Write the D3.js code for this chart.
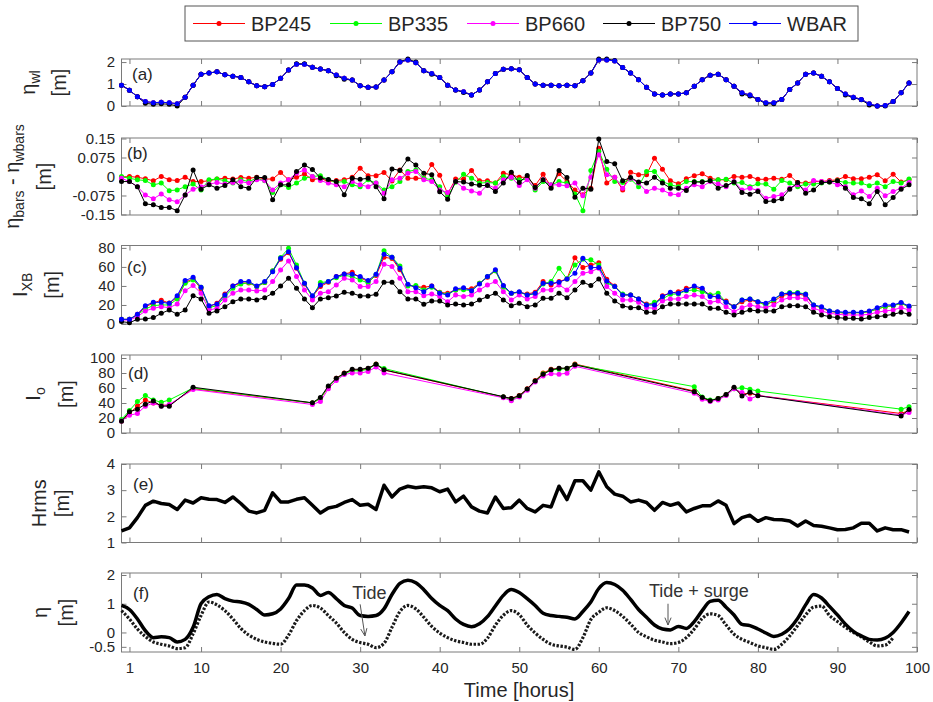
<!DOCTYPE html>
<html>
<head>
<meta charset="utf-8">
<script src="https://cdn.jsdelivr.net/npm/d3@7"></script>
<style>
  body { margin: 0; background: #fff; }
  text { font-family: "Liberation Sans", Arial, sans-serif; }
</style>
</head>
<body>
<div id="chart"></div>
<script>

// ---------- data ----------
const hours = d3.range(0, 100);
const xTicks = [1, 10, 20, 30, 40, 50, 60, 70, 80, 90, 100];
const seriesNames = ["BP245", "BP335", "BP660", "BP750", "WBAR"];
const seriesColors = ["#ff0000", "#00ff00", "#ff00ff", "#000000", "#0000ff"];

// (a) water level, all gauges nearly identical
const wlWbar = [0.95,0.72,0.42,0.2,0.15,0.17,0.15,0.1,0.4,0.95,
  1.45,1.5,1.56,1.42,1.36,1.3,1.1,0.92,0.88,0.98,
  1.26,1.64,1.9,1.9,1.76,1.68,1.61,1.41,1.26,1.18,
  0.92,0.85,0.86,1.18,1.56,2.0,2.1,1.97,1.61,1.48,
  1.3,0.95,0.73,0.65,0.5,0.73,1.1,1.48,1.67,1.7,
  1.65,1.3,1.0,0.95,0.95,0.92,0.95,0.92,1.15,1.5,
  2.1,2.1,2.05,1.75,1.5,1.2,0.85,0.55,0.5,0.55,
  0.55,0.6,0.9,1.2,1.4,1.45,1.2,0.9,0.6,0.5,
  0.3,0.15,0.15,0.3,0.75,1.05,1.45,1.5,1.35,1.1,
  0.8,0.55,0.4,0.3,0.1,0.0,0.02,0.2,0.6,1.05];
const wlBp750 = [0.95,0.72,0.42,0.12,0.08,0.1,0.08,0.0,0.4,0.95,
  1.45,1.5,1.56,1.42,1.36,1.3,1.1,0.92,0.88,0.98,
  1.26,1.64,1.92,1.92,1.76,1.68,1.61,1.38,1.22,1.18,
  0.92,0.85,0.86,1.18,1.56,2.02,2.14,2.0,1.61,1.45,
  1.3,0.95,0.73,0.62,0.5,0.73,1.1,1.48,1.67,1.7,
  1.65,1.3,1.0,0.95,0.95,0.92,0.95,0.92,1.15,1.5,
  2.14,2.14,2.07,1.75,1.5,1.2,0.85,0.55,0.5,0.55,
  0.55,0.6,0.9,1.2,1.4,1.45,1.2,0.9,0.55,0.45,
  0.3,0.1,0.1,0.3,0.75,1.05,1.45,1.5,1.35,1.1,
  0.8,0.5,0.38,0.28,0.05,0.0,0.0,0.2,0.6,1.05];

// (b) difference to WBAR
const dRed = [-0.003,0,-0.003,-0.009,-0.017,0,-0.013,-0.016,-0.003,-0.02,
  -0.02,-0.017,-0.01,-0.007,-0.01,-0.004,-0.007,-0.003,-0.01,-0.01,
  0.016,-0.013,-0.003,0.01,-0.013,-0.007,-0.02,-0.016,-0.013,-0.003,
  0.033,0.003,0.003,0.016,-0.018,0.026,-0.007,-0.007,-0.007,0.047,
  0.005,-0.068,-0.01,-0.01,0.024,-0.017,-0.017,-0.026,0.013,0.007,
  -0.003,-0.003,-0.036,0.009,-0.04,0.011,-0.02,-0.053,-0.072,-0.046,
  0.112,-0.026,-0.003,-0.053,0.017,0.007,0.007,0.072,0.029,-0.017,
  -0.029,-0.009,0.003,0.011,-0.007,-0.013,-0.013,0,-0.003,0,
  -0.011,-0.011,-0.007,-0.011,0.004,-0.024,-0.026,-0.02,-0.02,-0.016,
  -0.013,0,-0.009,-0.009,-0.003,0.007,-0.017,0.009,-0.022,-0.013];
const dGreen = [0,-0.007,-0.013,-0.016,-0.033,-0.026,-0.056,-0.053,-0.04,-0.03,
  -0.053,-0.013,-0.01,-0.017,-0.026,-0.013,-0.02,-0.007,-0.017,-0.063,
  -0.033,-0.043,-0.026,-0.007,0,0.003,-0.013,-0.023,-0.02,-0.033,
  -0.04,-0.013,-0.026,-0.053,-0.04,-0.02,0.02,0.026,-0.007,-0.013,
  -0.04,-0.08,-0.023,0.009,-0.007,-0.026,-0.024,-0.026,0,-0.007,
  -0.013,-0.011,-0.053,-0.02,-0.033,-0.02,-0.026,-0.069,-0.135,0.024,
  0.1,0.029,-0.02,-0.024,-0.011,-0.04,0.02,0.02,-0.02,-0.033,
  -0.04,-0.02,-0.02,-0.02,-0.017,-0.013,-0.011,-0.026,-0.024,-0.04,
  -0.029,-0.03,-0.05,-0.016,-0.026,-0.04,-0.03,-0.03,-0.026,-0.022,
  -0.017,-0.024,-0.026,-0.026,-0.037,-0.026,-0.04,-0.02,-0.026,-0.01];
const dMagenta = [-0.007,-0.02,-0.04,-0.073,-0.088,-0.069,-0.092,-0.1,-0.073,-0.05,
  -0.04,-0.03,-0.024,-0.03,-0.024,-0.02,-0.026,-0.013,-0.016,-0.053,
  -0.026,-0.013,0.013,0.026,0,-0.016,-0.026,-0.033,-0.04,-0.02,
  -0.033,-0.04,-0.026,-0.066,-0.013,-0.007,0.013,0.02,-0.013,-0.02,
  -0.053,-0.063,-0.02,-0.046,-0.057,-0.066,-0.033,-0.046,-0.013,-0.003,
  -0.036,-0.013,-0.046,-0.013,-0.033,-0.033,-0.037,-0.026,-0.076,-0.003,
  0.086,0.007,-0.003,-0.046,-0.007,-0.026,-0.059,-0.046,-0.053,-0.069,
  -0.072,-0.046,-0.033,-0.04,-0.02,-0.03,-0.04,-0.02,-0.053,-0.046,
  -0.055,-0.086,-0.079,-0.072,-0.046,-0.033,-0.053,-0.016,-0.02,-0.02,
  -0.033,-0.04,-0.072,-0.057,-0.079,-0.046,-0.076,-0.059,-0.046,-0.024];
const dBlack = [-0.02,-0.02,-0.04,-0.108,-0.112,-0.122,-0.122,-0.135,-0.073,0.026,
  -0.05,-0.033,-0.046,-0.036,-0.013,-0.04,-0.046,-0.004,-0.004,-0.092,
  -0.033,-0.033,0.02,0.045,0.028,-0.006,-0.012,-0.02,-0.072,-0.007,
  -0.011,-0.007,-0.04,-0.088,0.03,0.024,0.069,0.045,0.013,0.007,
  -0.06,-0.09,-0.02,-0.022,-0.03,-0.035,-0.036,-0.059,-0.026,0.017,
  -0.024,0.004,-0.043,-0.013,-0.046,0.024,-0.004,-0.082,-0.046,-0.05,
  0.148,0.059,0.05,-0.017,-0.004,-0.022,-0.026,-0.003,-0.026,-0.046,
  -0.046,-0.055,-0.022,-0.022,-0.017,-0.046,-0.036,-0.022,-0.063,-0.07,
  -0.059,-0.099,-0.096,-0.088,-0.05,-0.024,-0.066,-0.053,-0.024,-0.022,
  -0.017,-0.046,-0.083,-0.088,-0.108,-0.059,-0.112,-0.083,-0.05,-0.033];

// (c) I_XB
const xbRed = [4.9,4.9,10.2,18,22,25,22,28,44,47.4,
  37,18.2,21.8,31.6,40,43,43.2,39.3,43.5,55.7,
  68,75,58.6,42,28.8,39.3,43.9,49.8,52.6,54.4,
  48.7,44.6,50.9,70.2,68.8,57,41,39.3,38.5,40,
  33.3,32.3,35.8,37,37,42.8,49.1,56,40,32.3,
  33.3,31.6,33.3,44.6,41,44.6,47.4,69.5,59.3,62,
  64.5,47,40,30.5,30.5,26.3,21,21,29.8,32.3,
  34,37.5,38.6,36,30.5,27.7,24.2,18.2,23.5,25.3,
  22.8,21,23.5,29.8,31.6,31.6,29.8,19.3,17.2,13,
  12.3,11.2,11.9,11.9,13,15.8,18.2,19.3,21.8,18.2];
const xbGreen = [4.9,4.9,9.5,15.8,19.3,20,20,26.3,42.8,46.3,
  38.6,17.2,19.3,28.8,37.5,42,43.5,39.3,43.5,56,
  70,79.5,62,42.8,28,43.5,44.6,48.7,51.2,49.8,
  46.3,43,52,77,70.2,61,40,40.4,35.8,38.6,
  33,31,35.8,36,35,42.8,49.8,56,38.6,32.3,
  33.3,30.5,31.6,42,44.6,58.6,47.4,62,68,67.4,
  62,43.2,39.3,31.6,30.5,26.3,20,22.8,26.3,31.2,
  31.6,35,35.8,34,30.5,32.3,22.8,18.2,25.3,26.3,
  23.5,19.3,25.3,31.6,33,33,31.6,20,17.2,13.7,
  12.3,11.9,11.9,11.9,13,15.8,18.2,19.3,21.8,18.2];
const xbMagenta = [4.2,4.2,7.7,13.7,16.5,18.2,17.2,21,35,40.4,
  32.3,14.7,16.5,25.3,32.3,35.8,35.8,34.7,35.8,44.6,
  56.8,66.3,49.8,35.8,25.3,32.3,34,41,48,46.3,
  39.3,39.3,44.6,62.8,60.4,48,34,34,29.8,31.6,
  28.8,23.5,30.5,28.8,30.5,35.8,41,44.6,34,25.3,
  30.5,26.3,28.8,35.8,35.8,41,35.8,44.6,53.3,55,
  58.6,39.3,32.3,25.3,25.3,22.8,17.2,16.5,24.2,26.3,
  26.3,28.8,30.5,28.8,22.8,24.2,18.2,13,17.2,20,
  18.2,17.2,20,25.3,27.7,27.7,26.3,16.5,13.7,11.2,
  10.2,9.5,9.5,9.5,10.2,12.3,13.7,14.7,17.2,14.7];
const xbBlack = [2.5,1.4,4.9,5.3,6.7,11.2,14.7,10.2,14.7,29.8,
  26.3,11.2,13.7,18.2,23.5,26.3,26.3,25.3,27.7,32.3,
  40,48,37.5,26.3,17.2,26.3,27.7,29.5,33.3,32.3,
  29.5,29.5,31.2,43.9,43.9,34,26.3,26.3,20.7,24.2,
  24.2,20,21,20,21,25.3,28.8,32.3,25.3,19.3,
  21.8,18.2,20,27,27,32.3,27.7,35.8,43.9,40.4,
  47.4,32.3,24.2,19,17.2,17.2,12.3,12.3,18.2,21,
  21,21,21,21,16.5,16.5,12.3,9.5,12.3,14.7,
  13.7,13.7,13.7,18.2,19.3,19.3,18.2,12.3,9.5,7.7,
  6.7,6,6,5.3,6.7,7.7,8.8,10.2,12.3,10.2];
const xbWbar = [4.9,4.9,10.2,19.3,22.8,22.8,21.8,29.8,45.6,49.1,
  38.6,19.3,21,30.5,40,44.6,44.6,40,44.6,55,
  69,76,59,42.8,29.8,41,44.6,49.8,52.6,52.3,
  49.8,45.6,52.3,73.3,70.2,58.6,41.8,38,34,40,
  32.3,30.5,37,38,35,42,50,57,40.4,32.3,
  34,30.5,32.3,42.8,42.8,43.8,47.4,53.3,69,59.3,
  59.3,45.3,39.3,30.5,30.5,26.3,20,20,28.8,33.3,
  32.3,35.8,40,37.5,28.8,28.8,22.8,18.2,25.3,26.3,
  23.5,21.8,26.3,31.6,32.3,32.3,31.2,20,18.2,13.7,
  13,12.3,12.3,12.3,13.7,17.2,20,20,22.5,19];

// (d) I_o, only at some hours
const loHours = [0,1,2,3,4,5,6,9,24,25,26,27,28,29,30,31,32,33,
  48,49,50,51,52,53,54,55,56,57,72,73,74,75,76,77,78,79,80,98,99];
const loRed = [16,26,36,44,40,37,37,59, 40,46,61,73,80,84,84,86,92,84,
  48,46,50,59,70,80,85,86,86,92, 56,47,43,46,51,60,52,53,50, 26,30];
const loGreen = [18,30,42,50,44,41,44,60, 40,46,62,72,79,83,83,85,91.8,86,
  48,44,49,58,69,79,84,85,86,91, 61.8,48,44,46,51,59,60.5,58.2,56, 31.8,35];
const loMagenta = [16,23.7,26,35.8,40,36,38,58, 38,42,59,70,78,80,80,82,88,80,
  47,43,48,57,68,76,79,78.4,79.7,89, 52.9,45,42,44,50,59,54,45.3,50, 24,27.3];
const loBlack = [15.7,28.2,31.8,38.5,42.6,35.8,35.8,61, 40.3,47.5,62.7,73,79.7,85,85,86.5,91.8,84.2,
  48.4,46.1,49.7,58.7,69.4,78.4,84.2,86.5,86.5,91, 55.1,47.5,43,46.1,51.5,61,49.3,54.2,49.7, 22.8,31.4];

// (e) Hrms
const hrms = [1.44,1.56,1.95,2.42,2.58,2.49,2.45,2.26,2.62,2.51,
  2.71,2.65,2.64,2.53,2.74,2.49,2.2,2.13,2.23,2.9,
  2.55,2.55,2.65,2.71,2.42,2.13,2.32,2.38,2.53,2.64,
  2.42,2.46,2.26,3.19,2.74,3.04,3.15,3.09,3.13,3.09,
  2.94,3.04,2.55,2.77,2.36,2.2,2.13,2.74,2.3,2.33,
  2.62,2.3,2.17,2.42,2.36,3.15,2.64,3.36,3.36,3.0,
  3.7,3.13,2.85,2.77,2.55,2.62,2.53,2.23,2.53,2.42,
  2.51,2.17,2.3,2.4,2.4,2.59,2.42,1.72,1.95,2.04,
  1.81,1.95,1.88,1.87,1.82,1.63,1.82,1.65,1.62,1.56,
  1.49,1.5,1.56,1.74,1.74,1.44,1.56,1.49,1.49,1.4];

// (f) water level: tide + surge, and tide only
const etaSurge = [0.94,0.8,0.47,0.06,-0.18,-0.15,-0.18,-0.33,-0.24,0.18,
  1.0,1.24,1.32,1.18,1.09,1.06,0.98,0.8,0.61,0.65,
  0.82,1.18,1.65,1.65,1.55,1.29,1.39,1.18,0.94,0.85,
  0.59,0.56,0.59,0.82,1.32,1.71,1.82,1.73,1.49,1.18,
  0.94,0.76,0.47,0.28,0.2,0.3,0.55,0.92,1.29,1.5,
  1.39,1.18,0.94,0.67,0.59,0.56,0.53,0.47,0.73,1.06,
  1.53,1.74,1.67,1.47,1.15,0.8,0.53,0.26,0.12,0.09,
  0.21,0.14,0.38,0.76,1.08,1.12,0.88,0.61,0.28,0.24,
  0.12,-0.02,-0.14,-0.06,0.14,0.49,0.96,1.32,1.2,0.91,
  0.61,0.29,0.04,-0.12,-0.24,-0.26,-0.2,0,0.33,0.73];
const etaTide = [0.76,0.47,0.12,-0.14,-0.33,-0.41,-0.47,-0.56,-0.53,-0.05,
  0.59,1.06,0.96,0.76,0.47,0.14,-0.09,-0.24,-0.33,-0.38,
  -0.41,-0.09,0.41,0.76,0.94,0.85,0.59,0.33,0,-0.24,
  -0.35,-0.41,-0.53,-0.38,0.18,0.73,0.94,0.82,0.53,0.21,
  -0.02,-0.18,-0.29,-0.35,-0.41,-0.41,-0.2,0.25,0.6,0.76,
  0.62,0.26,-0.02,-0.24,-0.41,-0.47,-0.51,-0.59,-0.18,0.45,
  0.7,0.86,0.76,0.56,0.29,0,-0.15,-0.27,-0.33,-0.39,
  -0.35,-0.18,0.12,0.49,0.65,0.59,0.26,-0.06,-0.24,-0.35,
  -0.47,-0.53,-0.59,-0.41,-0.12,0.24,0.61,0.88,0.92,0.59,
  0.38,0.18,0,-0.15,-0.33,-0.47,-0.44,-0.18];

// ---------- layout ----------
const W = 933, H = 702;
const FONT = '"Liberation Sans", Arial, sans-serif';
const axisColor = "#7a7a7a";
const textColor = "#262626";
const left = 121.5, right = 917;
const tickFont = 15;

const x = d3.scaleLinear().domain([0, 100]).range([left, right]);

const panels = [
  {key: "a", top: 59, bottom: 106, domain: [0, 2.14], ticks: [0, 1, 2], fmt: d => d,
   tag: "(a)", tagX: 132, tagY: 80, ylab: [[["η"], ["wl", 1]], [["[m]"]]], ylabX: [35, 66]},
  {key: "b", top: 138, bottom: 215, domain: [-0.152, 0.152], ticks: [-0.15, -0.075, 0, 0.075, 0.15],
   fmt: d => d === 0 ? "0" : String(d),
   tag: "(b)", tagX: 127, tagY: 159, ylab: [[["η"], ["bars", 1], [" - η"], ["wbars", 1]], [["[m]"]]], ylabX: [19, 51]},
  {key: "c", top: 245.5, bottom: 324, domain: [0, 82.5], ticks: [0, 20, 40, 60, 80], fmt: d => d,
   tag: "(c)", tagX: 127, tagY: 273, ylab: [[["I"], ["XB", 1]], [["[m]"]]], ylabX: [27, 59]},
  {key: "d", top: 355, bottom: 433, domain: [0, 104], ticks: [0, 20, 40, 60, 80, 100], fmt: d => d,
   tag: "(d)", tagX: 128, tagY: 379, ylab: [[["I"], ["o", 1]], [["[m]"]]], ylabX: [40, 73]},
  {key: "e", top: 464, bottom: 542.5, domain: [1, 4], ticks: [1, 2, 3, 4], fmt: d => d,
   tag: "(e)", tagX: 133, tagY: 490, ylab: [[["Hrms"]], [["[m]"]]], ylabX: [46, 69]},
  {key: "f", top: 573, bottom: 652, domain: [-0.68, 2.07], ticks: [-0.5, 0, 1, 2], fmt: d => d,
   tag: "(f)", tagX: 133, tagY: 599, ylab: [[["η"]], [["[m]"]]], ylabX: [47, 73]}
];

const svg = d3.select("#chart").append("svg")
  .attr("width", W).attr("height", H)
  .style("display", "block");

function richText(sel, parts) {
  let shift = 0;
  parts.forEach(p => {
    const want = p[1] ? 5 : 0;
    sel.append("tspan")
      .attr("dy", want - shift)
      .attr("font-size", p[1] ? 14 : null)
      .text(p[0]);
    shift = want;
  });
}

function drawMarked(g, y, xs, vals, color, r) {
  const pts = xs.map((t, i) => [t, vals[i]]);
  g.append("path")
    .datum(pts)
    .attr("fill", "none")
    .attr("stroke", color)
    .attr("stroke-width", 1)
    .attr("d", d3.line().x(d => x(d[0])).y(d => y(d[1])));
  g.selectAll(null)
    .data(pts)
    .enter()
    .append("circle")
    .attr("cx", d => x(d[0]))
    .attr("cy", d => y(d[1]))
    .attr("r", r)
    .attr("fill", color);
}

function styleAxis(a) {
  a.attr("font-family", FONT).attr("font-size", tickFont);
  a.select(".domain").remove();
  a.selectAll(".tick line").attr("stroke", axisColor);
  a.selectAll(".tick text").attr("fill", textColor);
}

const scales = {};

panels.forEach(p => {
  const y = d3.scaleLinear().domain(p.domain).range([p.bottom, p.top]);
  scales[p.key] = y;
  const g = svg.append("g");

  g.append("g").attr("transform", `translate(${left},0)`)
    .call(d3.axisLeft(y).tickValues(p.ticks).tickFormat(p.fmt).tickSizeInner(-5).tickSizeOuter(0).tickPadding(6.5))
    .call(styleAxis);
  g.append("g").attr("transform", `translate(${right},0)`)
    .call(d3.axisRight(y).tickValues(p.ticks).tickFormat("").tickSizeInner(-5).tickSizeOuter(0))
    .call(styleAxis);
  g.append("g").attr("transform", `translate(0,${p.top})`)
    .call(d3.axisTop(x).tickValues(xTicks).tickFormat("").tickSizeInner(-5).tickSizeOuter(0))
    .call(styleAxis);
  g.append("g").attr("transform", `translate(0,${p.bottom})`)
    .call(d3.axisBottom(x).tickValues(xTicks).tickFormat(p.key === "f" ? d => d : "")
      .tickSizeInner(-5).tickSizeOuter(0).tickPadding(10))
    .call(styleAxis);

  g.append("rect")
    .attr("x", left).attr("y", p.top)
    .attr("width", right - left).attr("height", p.bottom - p.top)
    .attr("fill", "none").attr("stroke", axisColor).attr("stroke-width", 1);

  // panel tag
  g.append("text").attr("x", p.tagX).attr("y", p.tagY)
    .attr("font-size", 17).attr("fill", textColor).text(p.tag);

  // y label (two lines, rotated)
  const cy = (p.top + p.bottom) / 2;
  p.ylab.forEach((line, i) => {
    const t = g.append("text")
      .attr("transform", `translate(${p.ylabX[i]},${cy}) rotate(-90)`)
      .attr("text-anchor", "middle")
      .attr("font-size", 20)
      .attr("fill", textColor);
    richText(t, line);
  });

  p.g = g;
});

// (a)
{
  const g = panels[0].g, y = scales.a;
  const sets = [wlWbar, wlWbar, wlWbar, wlBp750, wlWbar];
  sets.forEach((s, i) => drawMarked(g, y, hours, s, seriesColors[i], 2.5));
}
// (b)
{
  const g = panels[1].g, y = scales.b;
  [dRed, dGreen, dMagenta, dBlack].forEach((s, i) => drawMarked(g, y, hours, s, seriesColors[i], 2.5));
}
// (c)
{
  const g = panels[2].g, y = scales.c;
  [xbRed, xbGreen, xbMagenta, xbBlack, xbWbar].forEach((s, i) => drawMarked(g, y, hours, s, seriesColors[i], 2.5));
}
// (d)
{
  const g = panels[3].g, y = scales.d;
  [loRed, loGreen, loMagenta, loBlack].forEach((s, i) => drawMarked(g, y, loHours, s, seriesColors[i], 2.5));
}
// (e)
{
  const g = panels[4].g, y = scales.e;
  g.append("path").datum(hrms)
    .attr("fill", "none").attr("stroke", "#000").attr("stroke-width", 3.5)
    .attr("stroke-linejoin", "round")
    .attr("d", d3.line().x((d, i) => x(hours[i])).y(d => y(d)));
}
// (f)
{
  const g = panels[5].g, y = scales.f;
  g.append("path").datum(etaTide)
    .attr("fill", "none").attr("stroke", "#1a1a1a").attr("stroke-width", 3.2)
    .attr("stroke-dasharray", "2.4,1.6")
    .attr("d", d3.line().curve(d3.curveMonotoneX).x((d, i) => x(hours[i])).y(d => y(d)));
  g.append("path").datum(etaSurge)
    .attr("fill", "none").attr("stroke", "#000").attr("stroke-width", 3.5)
    .attr("stroke-linejoin", "round")
    .attr("d", d3.line().curve(d3.curveMonotoneX).x((d, i) => x(hours[i])).y(d => y(d)));

  const notes = [
    {text: "Tide", tx: 29.0, ty: 1.15, from: [30.0, 0.98], to: [30.6, -0.12]},
    {text: "Tide + surge", tx: 66.3, ty: 1.22, from: [68.7, 1.0], to: [68.7, 0.26]}
  ];
  notes.forEach(n => {
    g.append("text").attr("x", x(n.tx)).attr("y", y(n.ty))
      .attr("font-size", 18).attr("fill", "#333").text(n.text);
    const x1 = x(n.from[0]), y1 = y(n.from[1]), x2 = x(n.to[0]), y2 = y(n.to[1]);
    const a = Math.atan2(y2 - y1, x2 - x1), L = 8, s = 0.4;
    g.append("path")
      .attr("d", `M${x1},${y1}L${x2},${y2}M${x2 - L * Math.cos(a - s)},${y2 - L * Math.sin(a - s)}L${x2},${y2}L${x2 - L * Math.cos(a + s)},${y2 - L * Math.sin(a + s)}`)
      .attr("fill", "none").attr("stroke", "#555").attr("stroke-width", 1);
  });
}

// x label
svg.append("text").attr("x", 519).attr("y", 697)
  .attr("text-anchor", "middle").attr("font-size", 20).attr("fill", textColor)
  .text("Time [horus]");

// legend
const legend = svg.append("g").attr("font-family", FONT);
legend.append("rect").attr("x", 185).attr("y", 6).attr("width", 673).attr("height", 35)
  .attr("fill", "#fff").attr("stroke", "#555").attr("stroke-width", 1);
const legX = [193, 330, 467, 603, 729];
seriesNames.forEach((name, i) => {
  const lg = legend.append("g").attr("transform", `translate(${legX[i]},23.5)`);
  lg.append("line").attr("x1", 0).attr("x2", 52).attr("stroke", seriesColors[i]).attr("stroke-width", 1);
  lg.append("circle").attr("cx", 26).attr("r", 2.5).attr("fill", seriesColors[i]);
  lg.append("text").attr("x", 58).attr("y", 7).attr("font-size", 20).attr("fill", textColor).text(name);
});

</script>
</body>
</html>
